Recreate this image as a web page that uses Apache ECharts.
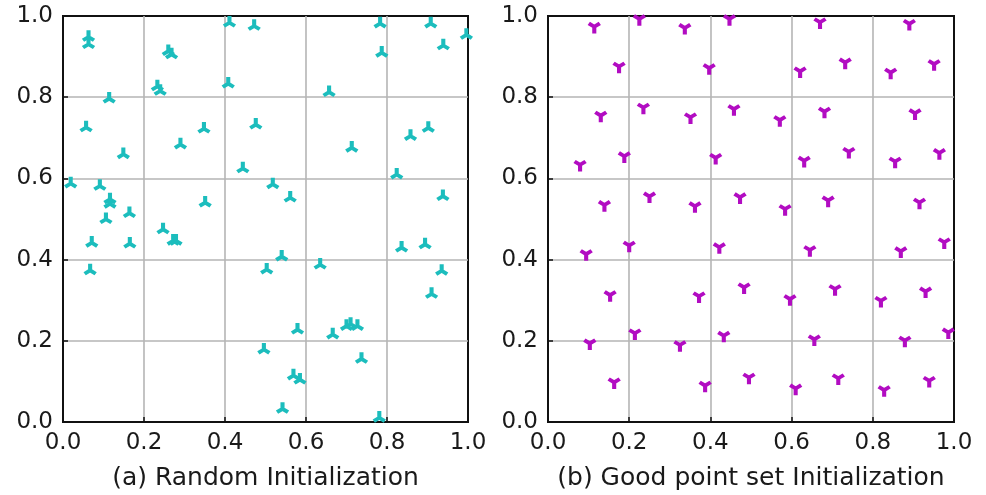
<!DOCTYPE html>
<html>
<head>
<meta charset="utf-8">
<script src="https://cdn.jsdelivr.net/npm/echarts@6/dist/echarts.min.js"></script>
<style>html,body{margin:0;padding:0;background:#fff;}#c{width:986px;height:495px;}</style>
</head>
<body>
<div id="c"></div>
<script>
const tickLabels = ['0.0', '0.2', '0.4', '0.6', '0.8', '1.0'];
const titles = ['(a) Random Initialization', '(b) Good point set Initialization'];

const randX = [0.063,0.063,0.114,0.057,0.149,0.019,0.091,0.116,0.116,0.106,0.164,0.071,0.165,0.067,0.247,0.272,0.279,0.260,0.268,0.233,0.240,0.290,0.348,0.351,0.411,0.472,0.408,0.476,0.444,0.518,0.561,0.657,0.713,0.783,0.787,0.824,0.858,0.902,0.908,0.939,0.996,0.938,0.503,0.540,0.635,0.579,0.666,0.700,0.710,0.727,0.737,0.496,0.569,0.585,0.542,0.781,0.836,0.894,0.935,0.910];
const randY = [0.955,0.937,0.803,0.732,0.666,0.594,0.588,0.555,0.544,0.506,0.521,0.448,0.446,0.380,0.481,0.453,0.453,0.920,0.912,0.833,0.822,0.690,0.729,0.547,0.990,0.982,0.840,0.739,0.631,0.592,0.559,0.819,0.682,0.988,0.916,0.616,0.711,0.731,0.988,0.934,0.960,0.563,0.382,0.414,0.394,0.234,0.222,0.243,0.248,0.243,0.162,0.185,0.121,0.111,0.039,0.017,0.436,0.444,0.379,0.322];

const goodX = [0.114,0.225,0.337,0.447,0.670,0.890,0.175,0.397,0.621,0.732,0.844,0.951,0.130,0.235,0.351,0.458,0.571,0.681,0.904,0.079,0.188,0.413,0.631,0.741,0.855,0.964,0.139,0.250,0.362,0.473,0.584,0.690,0.915,0.094,0.200,0.422,0.645,0.869,0.976,0.153,0.372,0.483,0.596,0.707,0.820,0.930,0.103,0.214,0.325,0.433,0.656,0.879,0.986,0.163,0.387,0.495,0.610,0.715,0.828,0.939];
const goodY = [0.967,0.986,0.964,0.986,0.978,0.974,0.869,0.865,0.857,0.879,0.854,0.875,0.748,0.768,0.744,0.764,0.737,0.758,0.754,0.627,0.648,0.644,0.637,0.659,0.635,0.656,0.528,0.549,0.525,0.547,0.518,0.539,0.534,0.407,0.428,0.424,0.417,0.414,0.436,0.306,0.303,0.325,0.296,0.321,0.292,0.315,0.187,0.212,0.183,0.206,0.197,0.194,0.214,0.091,0.083,0.103,0.076,0.101,0.072,0.095];

const triUp = 'path://M0,0L0,-10M0,0L-8.66,5M0,0L8.66,5';
const triDown = 'path://M0,0L0,10M0,0L-8.66,-5M0,0L8.66,-5';

const grids = [
  {left: 63, top: 16, width: 405, height: 406},
  {left: 548, top: 16, width: 406, height: 406}
];

function axis(idx, isX) {
  return {
    type: 'value', gridIndex: idx, min: 0, max: 1, interval: 0.2,
    axisLine: {show: true, onZero: false, lineStyle: {color: '#111', width: 2}},
    axisTick: {show: true, inside: true, length: 5, lineStyle: {color: '#111', width: 1.5}},
    axisLabel: {
      fontFamily: 'DejaVu Sans', fontSize: 23, color: '#1a1a1a', margin: 10,
      formatter: v => tickLabels[Math.round(v * 5)]
    },
    splitLine: {show: true, showMinLine: false, showMaxLine: false, lineStyle: {color: '#b5b5b5', width: 1.6}}
  };
}

const option = {
  animation: false,
  backgroundColor: '#fff',
  title: titles.map((t, i) => ({
    text: t,
    left: grids[i].left + grids[i].width / 2 - 5,
    textAlign: 'center',
    top: 461,
    textStyle: {fontFamily: 'DejaVu Sans', fontSize: 25, fontWeight: 'normal', color: '#1a1a1a'}
  })),
  grid: grids.map(g => Object.assign({show: true, borderColor: '#111', borderWidth: 2, backgroundColor: 'transparent'}, g)),
  xAxis: [axis(0, true), axis(1, true)],
  yAxis: [axis(0, false), axis(1, false)],
  series: [
    {
      type: 'scatter', xAxisIndex: 0, yAxisIndex: 0, clip: true,
      symbol: triUp, symbolSize: [11, 10], symbolOffset: [0, 1],
      itemStyle: {color: 'rgba(0,0,0,0)', borderColor: '#1cbdbd', borderWidth: 3.9, opacity: 1},
      data: randX.map((x, i) => [x, randY[i]])
    },
    {
      type: 'scatter', xAxisIndex: 1, yAxisIndex: 1, clip: true,
      symbol: triDown, symbolSize: [11, 10], symbolOffset: [0, -1],
      itemStyle: {color: 'rgba(0,0,0,0)', borderColor: '#b20cc2', borderWidth: 3.9, opacity: 1},
      data: goodX.map((x, i) => [x, goodY[i]])
    }
  ]
};

const chart = echarts.init(document.getElementById('c'), null, {renderer: 'canvas'});
chart.setOption(option);
</script>
</body>
</html>
